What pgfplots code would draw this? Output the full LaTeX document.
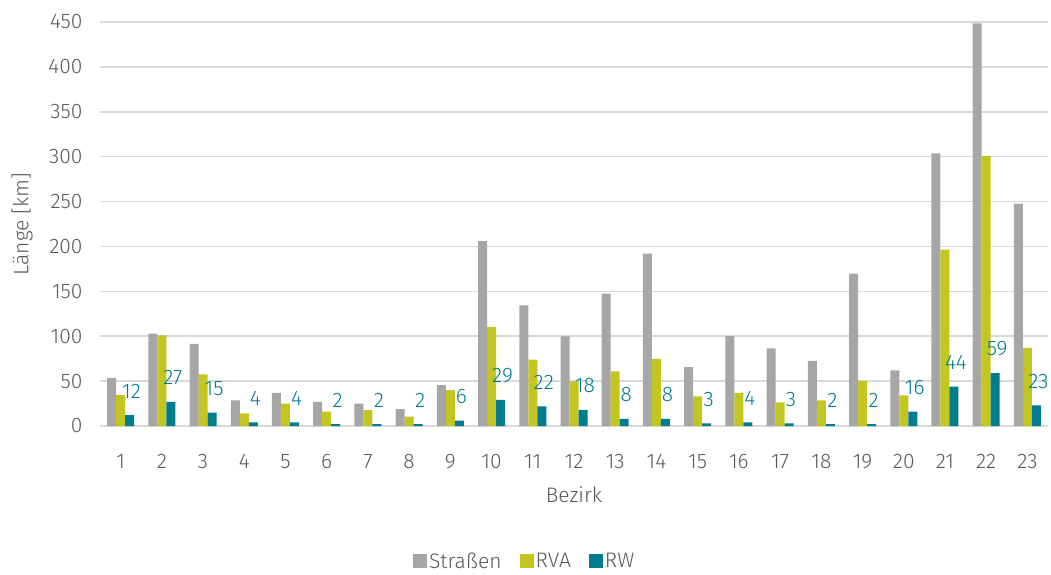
\documentclass[border=0pt]{standalone}
\usepackage{fontspec}
\setmainfont{Fira Sans Light}
\usepackage{pgfplots}
\pgfplotsset{compat=1.18}
\definecolor{cgray}{HTML}{A6A6A6}
\definecolor{cyel}{HTML}{C3C621}
\definecolor{cteal}{HTML}{007C91}
\definecolor{ctext}{HTML}{595959}
\definecolor{cgrid}{HTML}{D9D9D9}
\begin{document}
\begin{tikzpicture}
\begin{axis}[
  at={(100pt,148pt)}, anchor=south west,
  scale only axis, width=948pt, height=404pt,
  xmin=0.5, xmax=23.5, ymin=0, ymax=450,
  ybar, bar width=9pt,
  xtick={1,...,23}, ytick={0,50,...,450},
  ymajorgrids, grid style={cgrid, line width=1.6pt},
  axis line style={draw=none}, tick style={draw=none},
  font=\fontsize{21}{25}\selectfont, 
  /pgf/number format/assume math mode=true,
  tick label style={text=ctext},
  xticklabel style={anchor=center, yshift=-31pt},
  yticklabel style={anchor=east, xshift=-14pt},
  xlabel={Bezirk}, ylabel={Länge [km]},
  label style={text=ctext},
  xlabel style={at={(axis description cs:0.5,-0.171)}, anchor=center},
  ylabel style={at={(axis description cs:-0.0823,0.5)}, anchor=center},
  legend style={at={(axis description cs:0.448,-0.335)}, anchor=center, draw=none, fill=none,
    legend columns=-1, text=ctext, font=\fontsize{21}{25}\selectfont, inner sep=0pt,
    /tikz/every even column/.append style={column sep=16pt}},
  legend image code/.code={\fill (0pt,-7pt) rectangle (14pt,7pt);},
]
\addplot[fill=cgray, draw=none, bar shift=-9pt] coordinates {
(1,53.7) (2,103) (3,91.5) (4,28.5) (5,37) (6,27) (7,24.8) (8,18.9) (9,45.6) (10,206) (11,134.5) (12,99.7) (13,147.5) (14,192) (15,65.6) (16,100) (17,86.4) (18,72.6) (19,169.8) (20,61.9) (21,303.6) (22,448.5) (23,247.6)};
\addlegendentry{Straßen}
\addplot[fill=cyel, draw=none, bar shift=0pt] coordinates {
(1,34.5) (2,101) (3,57.5) (4,14) (5,25) (6,16) (7,17.8) (8,10.4) (9,40) (10,110.5) (11,73.8) (12,49.7) (13,60.8) (14,74.9) (15,33) (16,37) (17,26.3) (18,28.5) (19,50) (20,34.1) (21,196.4) (22,301) (23,87.1)};
\addlegendentry{RVA}
\addplot[fill=cteal, draw=none, bar shift=9pt,
  nodes near coords,
  every node near coord/.append style={anchor=center, yshift=24pt, xshift=2pt, text=cteal, font=\fontsize{21}{25}\selectfont}] coordinates {
(1,12) (2,27) (3,15) (4,4) (5,4) (6,2) (7,2) (8,2) (9,6) (10,29) (11,22) (12,18) (13,8) (14,8) (15,3) (16,4) (17,3) (18,2) (19,2) (20,16) (21,44) (22,59) (23,23)};
\addlegendentry{RW}
\end{axis}
\pgfresetboundingbox
\path[use as bounding box] (0,0) rectangle (1051pt,574pt);
\end{tikzpicture}
\end{document}
